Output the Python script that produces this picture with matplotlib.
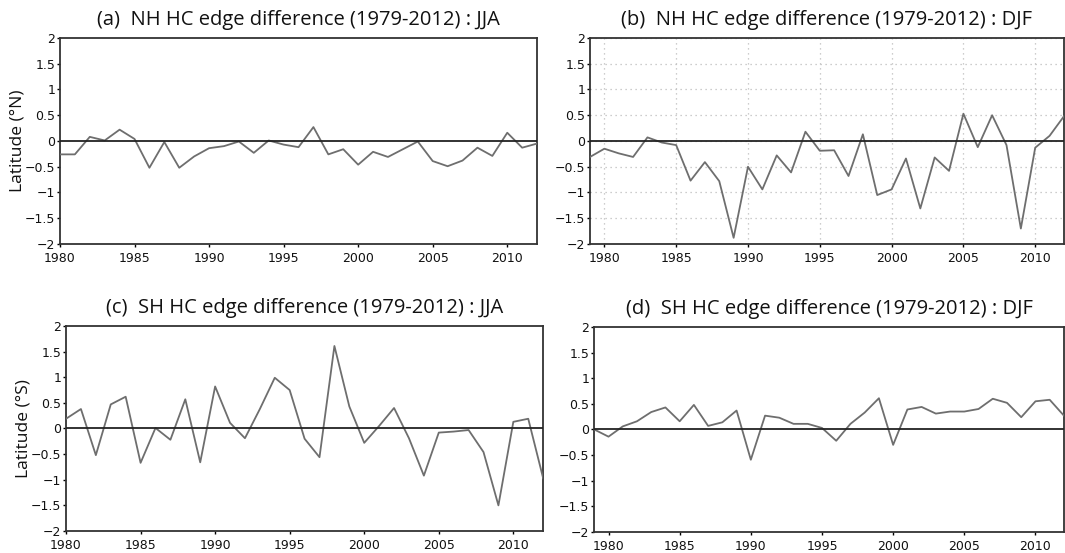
import matplotlib
matplotlib.use('Agg')
import matplotlib.pyplot as plt
import numpy as np

# NH HC edge difference, JJA (1980-2012)
years_a = np.arange(1980, 2013)
nh_jja = [-0.26, -0.26, 0.08, 0.01, 0.22, 0.04, -0.52, -0.02, -0.52, -0.30,
          -0.14, -0.10, -0.01, -0.23, 0.01, -0.07, -0.12, 0.27, -0.26, -0.16,
          -0.46, -0.21, -0.31, -0.16, -0.01, -0.39, -0.49, -0.38, -0.13, -0.29,
          0.16, -0.13, -0.05]

# NH HC edge difference, DJF (1979-2012)
years_b = np.arange(1979, 2013)
nh_djf = [-0.31, -0.15, -0.24, -0.31, 0.07, -0.03, -0.08, -0.77, -0.41, -0.78,
          -1.88, -0.50, -0.94, -0.28, -0.61, 0.18, -0.19, -0.18, -0.68, 0.13,
          -1.05, -0.94, -0.34, -1.31, -0.32, -0.58, 0.53, -0.12, 0.50, -0.08,
          -1.70, -0.13, 0.10, 0.48]

# SH HC edge difference, JJA (1980-2012)
years_c = np.arange(1980, 2013)
sh_jja = [0.19, 0.38, -0.52, 0.47, 0.62, -0.67, 0.01, -0.22, 0.57, -0.66,
          0.82, 0.11, -0.19, 0.38, 0.99, 0.75, -0.20, -0.56, 1.61, 0.43,
          -0.28, 0.05, 0.40, -0.19, -0.92, -0.08, -0.06, -0.03, -0.46, -1.50,
          0.13, 0.19, -0.97]

# SH HC edge difference, DJF (1979-2012)
years_d = np.arange(1979, 2013)
sh_djf = [0.00, -0.14, 0.06, 0.16, 0.34, 0.43, 0.16, 0.48, 0.07, 0.14,
          0.37, -0.59, 0.27, 0.23, 0.11, 0.11, 0.03, -0.22, 0.11, 0.33,
          0.61, -0.30, 0.39, 0.44, 0.31, 0.35, 0.35, 0.40, 0.60, 0.52,
          0.24, 0.55, 0.58, 0.27]

titles = ['(a)  NH HC edge difference (1979-2012) : JJA',
          '(b)  NH HC edge difference (1979-2012) : DJF',
          '(c)  SH HC edge difference (1979-2012) : JJA',
          '(d)  SH HC edge difference (1979-2012) : DJF']
ylabels = ['Latitude (\u00b0N)', None, 'Latitude (\u00b0S)', None]

yticks = [-2, -1.5, -1, -0.5, 0, 0.5, 1, 1.5, 2]
ytick_labels = ['\u22122', '\u22121.5', '\u22121', '\u22120.5', '0', '0.5', '1', '1.5', '2']
xticks = [1980, 1985, 1990, 1995, 2000, 2005, 2010]

tick_font = ['Liberation Sans Narrow', 'DejaVu Sans Condensed', 'DejaVu Sans']
title_font = ['Open Sans', 'DejaVu Sans']

fig = plt.figure(figsize=(10.65, 5.53), dpi=100)
positions = [
    [0.0563, 0.5588, 0.448, 0.3725],
    [0.554, 0.5588, 0.445, 0.3725],
    [0.062, 0.0398, 0.448, 0.3707],
    [0.558, 0.038, 0.441, 0.3707],
]
series = [(years_a, nh_jja, 1980), (years_b, nh_djf, 1979),
          (years_c, sh_jja, 1980), (years_d, sh_djf, 1979)]

for i, (pos, (yrs, vals, x0)) in enumerate(zip(positions, series)):
    ax = fig.add_axes(pos)
    if i == 1:
        ax.grid(True, linestyle=(0, (1, 3)), color='#bdbdbd', linewidth=0.9)
        ax.set_axisbelow(True)
    ax.plot(yrs, vals, color='#6e6e6e', linewidth=1.3, zorder=3)
    ax.axhline(0, color='#222222', linewidth=1.3, zorder=4)
    ax.set_xlim(x0, 2012)
    ax.set_ylim(-2, 2)
    ax.set_yticks(yticks)
    ax.set_yticklabels(ytick_labels, family=tick_font, fontsize=9, color='#111111')
    ax.set_xticks(xticks)
    ax.set_xticklabels([str(t) for t in xticks], family=tick_font, fontsize=9, color='#111111')
    ax.tick_params(direction='out', length=2.5, width=1.0)
    ax.tick_params(axis='y', pad=1)
    ax.tick_params(axis='x', pad=3)
    for sp in ax.spines.values():
        sp.set_linewidth(1.3)
        sp.set_color('#333333')
    ax.set_title(titles[i], family=title_font, fontsize=14.5, pad=9, color='#111111')
    if ylabels[i]:
        ax.set_ylabel(ylabels[i], family=title_font, fontsize=12.5, color='#111111')
        ax.yaxis.set_label_coords(-0.072, 0.5)

fig.savefig('out.png', dpi=100)
